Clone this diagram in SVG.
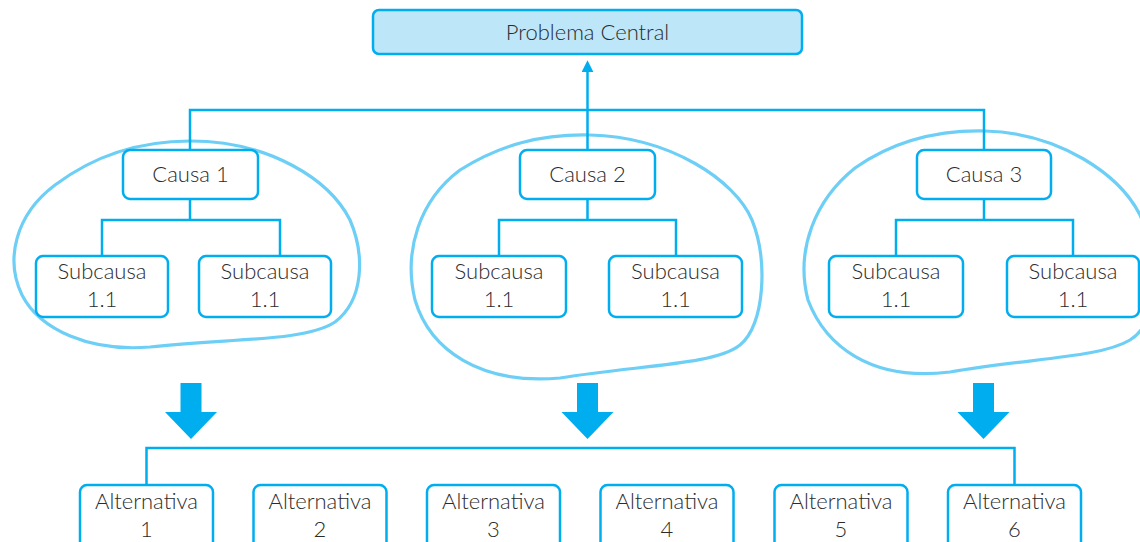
<svg xmlns="http://www.w3.org/2000/svg" width="1140" height="542" viewBox="0 0 1140 542">
<style>
.box{fill:#ffffff;stroke:#00aeef;stroke-width:2.5}
.main{fill:#bde6f8;stroke:#00aeef;stroke-width:2.5}
.ln{fill:none;stroke:#00aeef;stroke-width:2.5}
.blob{fill:none;stroke:#6dcff6;stroke-width:3.2}
.big{fill:#00aeef}
text{font-family:Lato,"Liberation Sans",sans-serif;font-weight:300;font-size:22px;fill:#2b2b2b;text-anchor:middle}
</style>
<defs>
<marker id="ah" markerWidth="12" markerHeight="12" refX="3" refY="5.5" orient="auto" markerUnits="userSpaceOnUse" viewBox="0 0 11 11">
<polygon points="0,0 11,5.5 0,11" fill="#00aeef"/>
</marker>
</defs>
<rect width="1140" height="542" fill="#ffffff"/>
<g id="blobs">
<path class="blob" d="M190,141 C270,141 330,180 350,220 C365,255 364,300 335,322 C305,342 230,338 150,347 C90,352 40,330 22,295 C5,260 15,215 55,185 C95,155 140,141 190,141 Z"/>
<path class="blob" d="M590,135 C670,137 735,180 752,220 C768,260 765,325 740,345 C715,365 640,365 560,378 C480,385 430,350 415,300 C403,250 420,200 460,170 C500,145 540,134 590,135 Z"/>
<path class="blob" d="M985,131 C1060,133 1120,175 1140,215 C1160,260 1160,322 1130,340 C1100,358 1030,358 950,372 C870,382 825,345 808,300 C795,250 815,200 855,168 C895,140 940,130 985,131 Z"/>
</g>
<g id="connectors">
<path class="ln" d="M587.5,110 V69" marker-end="url(#ah)"/>
<path class="ln" d="M190,150 V110 H984 V150 M587.5,110 V150"/>
<path class="ln" d="M190,199 V220 M102,256 V220 H280 V256"/>
<path class="ln" d="M587.5,199 V220 M499,256 V220 H676 V256"/>
<path class="ln" d="M984,199 V220 M896,256 V220 H1073 V256"/>
<path class="ln" d="M146.5,485 V448 H1014.5 V485"/>
<polygon class="big" points="180.5,383 201.5,383 201.5,412 217,412 191,439 165,412 180.5,412"/>
<polygon class="big" points="577,383 598,383 598,412 613.5,412 587.5,439 561.5,412 577,412"/>
<polygon class="big" points="973,383 994,383 994,412 1009.5,412 983.5,439 957.5,412 973,412"/>
</g>
<g id="problema"><rect class="main" x="373" y="10" width="429" height="44" rx="6"/><text x="587.5" y="40">Problema Central</text></g>
<g id="causa1"><rect class="box" x="123" y="150" width="135" height="49" rx="7"/><text x="190.5" y="182">Causa 1</text></g>
<g id="causa2"><rect class="box" x="520" y="150" width="135" height="49" rx="7"/><text x="587.5" y="182">Causa 2</text></g>
<g id="causa3"><rect class="box" x="917" y="150" width="134" height="49" rx="7"/><text x="984" y="182">Causa 3</text></g>
<g id="sub1a"><rect class="box" x="36" y="256" width="132" height="61" rx="7"/><text x="102" y="279">Subcausa</text><text x="102" y="307">1.1</text></g>
<g id="sub1b"><rect class="box" x="199" y="256" width="132" height="61" rx="7"/><text x="265" y="279">Subcausa</text><text x="265" y="307">1.1</text></g>
<g id="sub2a"><rect class="box" x="432" y="256" width="134" height="61" rx="7"/><text x="499" y="279">Subcausa</text><text x="499" y="307">1.1</text></g>
<g id="sub2b"><rect class="box" x="609" y="256" width="133" height="61" rx="7"/><text x="675.5" y="279">Subcausa</text><text x="675.5" y="307">1.1</text></g>
<g id="sub3a"><rect class="box" x="829" y="256" width="134" height="61" rx="7"/><text x="896" y="279">Subcausa</text><text x="896" y="307">1.1</text></g>
<g id="sub3b"><rect class="box" x="1007" y="256" width="132" height="61" rx="7"/><text x="1073" y="279">Subcausa</text><text x="1073" y="307">1.1</text></g>
<g id="alt1"><rect class="box" x="80" y="485" width="133" height="66" rx="7"/><text x="146.5" y="509">Alternativa</text><text x="146.5" y="537">1</text></g>
<g id="alt2"><rect class="box" x="253.5" y="485" width="133" height="66" rx="7"/><text x="320" y="509">Alternativa</text><text x="320" y="537">2</text></g>
<g id="alt3"><rect class="box" x="427" y="485" width="133" height="66" rx="7"/><text x="493.5" y="509">Alternativa</text><text x="493.5" y="537">3</text></g>
<g id="alt4"><rect class="box" x="600.5" y="485" width="133" height="66" rx="7"/><text x="667" y="509">Alternativa</text><text x="667" y="537">4</text></g>
<g id="alt5"><rect class="box" x="774.5" y="485" width="133" height="66" rx="7"/><text x="841" y="509">Alternativa</text><text x="841" y="537">5</text></g>
<g id="alt6"><rect class="box" x="948" y="485" width="133" height="66" rx="7"/><text x="1014.5" y="509">Alternativa</text><text x="1014.5" y="537">6</text></g>
</svg>
